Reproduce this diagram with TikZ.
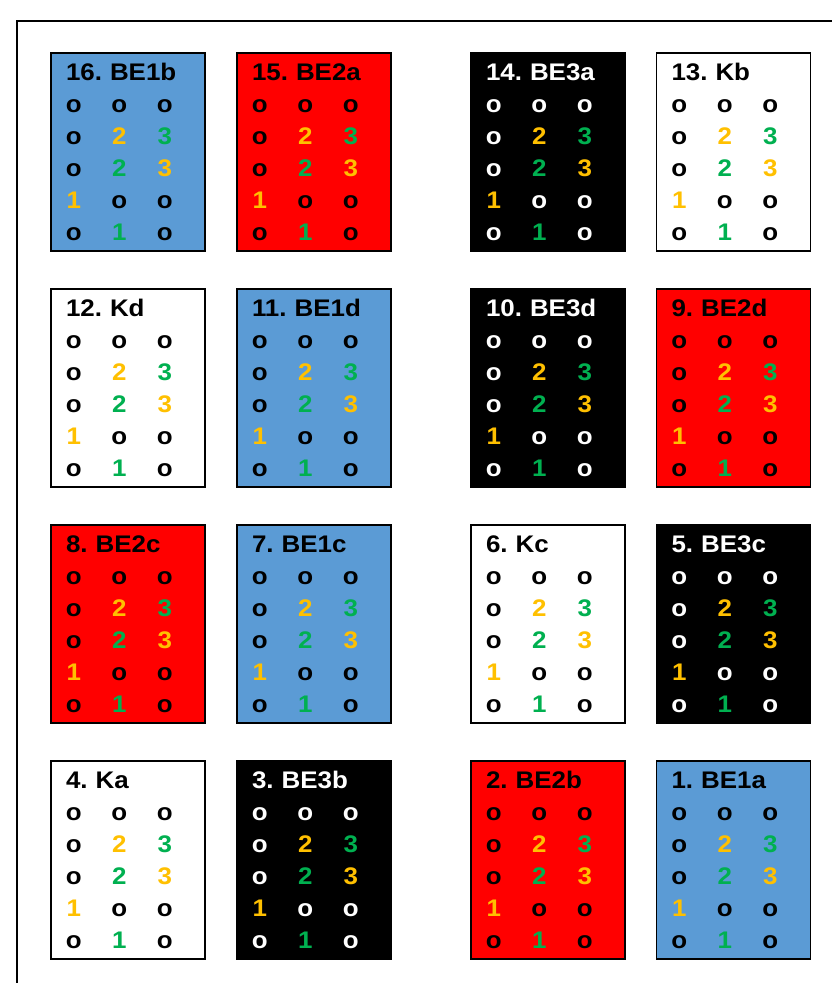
\documentclass[tikz,border=0pt]{standalone}
\usepackage{fontspec}
\setmainfont{Liberation Sans}[FakeStretch=1.08]
\usepackage{xcolor}

\definecolor{tileblue}{HTML}{5B9BD5}
\definecolor{tilered}{HTML}{FF0000}
\definecolor{gold}{HTML}{FFC000}
\definecolor{grn}{HTML}{00B050}

% one grid cell
\newcommand{\gc}[2]{\makebox[45.5pt]{\textcolor{#1}{#2}}}
% title + 5x3 grid, #1 = ink of title and o's
\newcommand{\boxgrid}[2]{%
  \hspace*{15pt}\textcolor{#1}{#2}\\
  \gc{#1}{o}\gc{#1}{o}\gc{#1}{o}\\
  \gc{#1}{o}\gc{gold}{2}\gc{grn}{3}\\
  \gc{#1}{o}\gc{grn}{2}\gc{gold}{3}\\
  \gc{gold}{1}\gc{#1}{o}\gc{#1}{o}\\
  \gc{#1}{o}\gc{grn}{1}\gc{#1}{o}}

\begin{document}
\begin{tikzpicture}[x=1pt, y=-1pt,
    tile/.style={draw=black, line width=1.8pt, minimum height=198pt, text width=154pt,
      inner xsep=0pt, inner ysep=0pt, align=left,
      font=\fontsize{24}{32}\selectfont\bfseries\frenchspacing},
    bluetile/.style={tile, fill=tileblue},
    redtile/.style={tile, fill=tilered},
    darktile/.style={tile, fill=black},
    whitetile/.style={tile, fill=white}
]
    \useasboundingbox (0,0) rectangle (832,983);
    \clip (0,0) rectangle (832,983);

    % Frame
    \draw[line width=2pt] (17,21) rectangle (870,1020);

    % Row 1
    \node[bluetile]  (be1b) at (128,152)   {\boxgrid{black}{16. BE1b}};
    \node[redtile]   (be2a) at (314,152)   {\boxgrid{black}{15. BE2a}};
    \node[darktile]  (be3a) at (548,152)   {\boxgrid{white}{14. BE3a}};
    \node[whitetile] (kb)   at (733.5,152) {\boxgrid{black}{13. Kb}};

    % Row 2
    \node[whitetile] (kd)   at (128,388)   {\boxgrid{black}{12. Kd}};
    \node[bluetile]  (be1d) at (314,388)   {\boxgrid{black}{11. BE1d}};
    \node[darktile]  (be3d) at (548,388)   {\boxgrid{white}{10. BE3d}};
    \node[redtile]   (be2d) at (733.5,388) {\boxgrid{black}{9. BE2d}};

    % Row 3
    \node[redtile]   (be2c) at (128,624)   {\boxgrid{black}{8. BE2c}};
    \node[bluetile]  (be1c) at (314,624)   {\boxgrid{black}{7. BE1c}};
    \node[whitetile] (kc)   at (548,624)   {\boxgrid{black}{6. Kc}};
    \node[darktile]  (be3c) at (733.5,624) {\boxgrid{white}{5. BE3c}};

    % Row 4
    \node[whitetile] (ka)   at (128,860)   {\boxgrid{black}{4. Ka}};
    \node[darktile]  (be3b) at (314,860)   {\boxgrid{white}{3. BE3b}};
    \node[redtile]   (be2b) at (548,860)   {\boxgrid{black}{2. BE2b}};
    \node[bluetile]  (be1a) at (733.5,860) {\boxgrid{black}{1. BE1a}};
\end{tikzpicture}
\end{document}
